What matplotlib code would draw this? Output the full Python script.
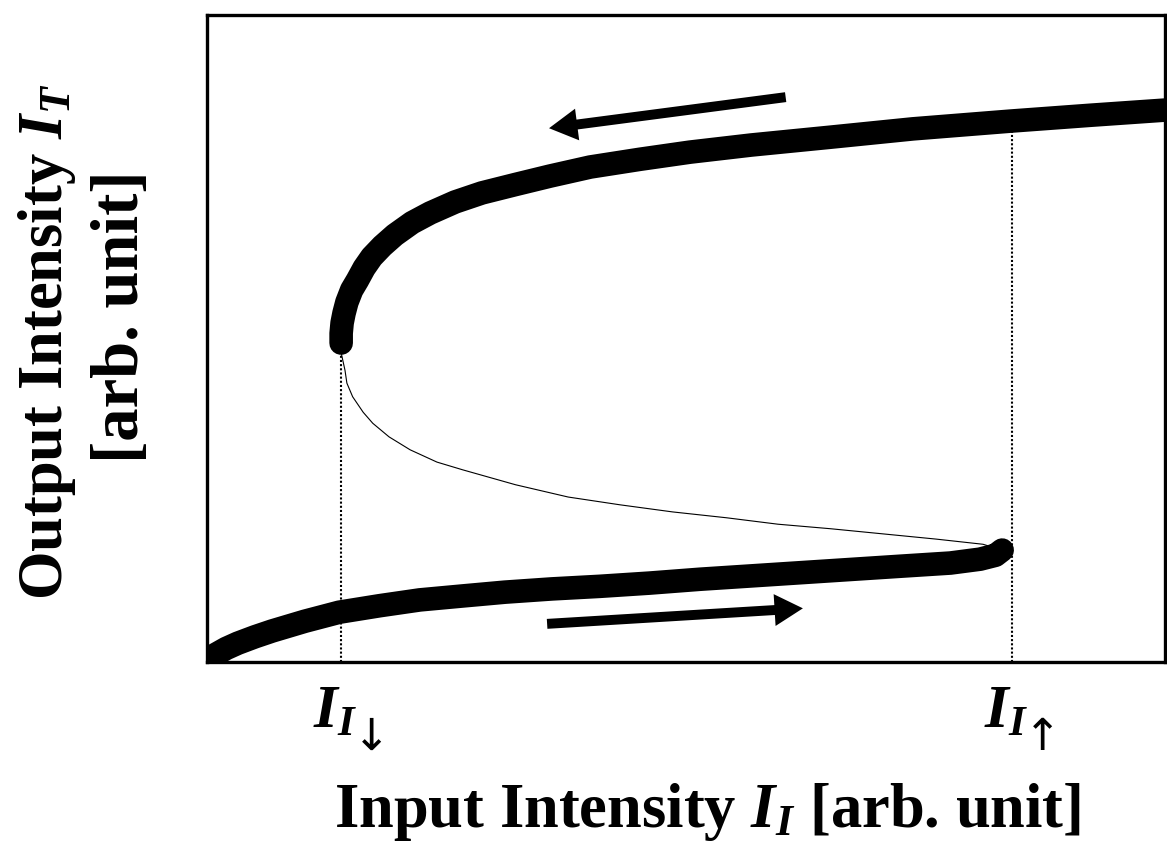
import matplotlib
matplotlib.use("Agg")
import matplotlib.pyplot as plt

plt.rcParams["font.family"] = ["Liberation Serif", "DejaVu Serif"]
plt.rcParams["font.weight"] = "bold"
plt.rcParams["mathtext.fontset"] = "custom"
plt.rcParams["mathtext.rm"] = "Liberation Serif:bold"
plt.rcParams["mathtext.it"] = "Liberation Serif:italic:bold"
plt.rcParams["mathtext.bf"] = "Liberation Serif:bold"

# stable high-transmission branch (input, output)
upper_x = [1.40, 1.40, 1.41, 1.43, 1.46, 1.51, 1.57, 1.64, 1.72, 1.83, 1.96,
           2.14, 2.33, 2.59, 2.87, 3.22, 3.58, 4.00, 4.52, 5.04, 5.68, 6.50,
           7.37, 8.39, 9.22, 10.0]
upper_y = [4.93, 5.08, 5.24, 5.39, 5.56, 5.75, 5.90, 6.09, 6.26, 6.43, 6.60,
           6.79, 6.94, 7.11, 7.25, 7.38, 7.51, 7.65, 7.77, 7.88, 7.99, 8.11,
           8.24, 8.36, 8.45, 8.53]

# stable low-transmission branch
lower_x = [0.00, 0.08, 0.20, 0.32, 0.50, 0.68, 1.02, 1.38, 1.80, 2.22, 2.66,
           3.11, 3.60, 4.10, 4.62, 5.15, 5.67, 6.19, 6.71, 7.23, 7.76, 8.07,
           8.23, 8.30]
lower_y = [0.00, 0.11, 0.21, 0.29, 0.39, 0.48, 0.63, 0.77, 0.87, 0.96, 1.02,
           1.08, 1.13, 1.17, 1.22, 1.28, 1.33, 1.38, 1.43, 1.48, 1.53, 1.59,
           1.65, 1.73]

# unstable middle branch
middle_x = [8.30, 8.10, 7.61, 7.06, 6.51, 5.96, 5.42, 4.86, 4.31, 3.77, 3.22,
            2.67, 2.40, 2.12, 1.90, 1.73, 1.63, 1.52, 1.46, 1.44, 1.40, 1.40]
middle_y = [1.73, 1.82, 1.90, 1.98, 2.06, 2.13, 2.23, 2.32, 2.43, 2.55, 2.74,
            2.97, 3.09, 3.28, 3.48, 3.69, 3.86, 4.10, 4.31, 4.51, 4.78, 4.93]

# switching thresholds and where their guide lines end
switch_x = [1.40, 8.40]
switch_top = [4.93, 8.36]
switch_arrows = ["↓", "↑"]

# sweep-direction arrows: (tail, head)
arrow_down = [(6.04, 8.73), (3.57, 8.25)]
arrow_up = [(3.55, 0.59), (6.22, 0.83)]

fig = plt.figure(figsize=(11.67, 8.41), dpi=100)
ax = fig.add_axes([0.1774, 0.2128, 0.8209, 0.7694])

ax.vlines(switch_x, 0, switch_top, colors="k", linewidth=1.5,
          linestyles=(0, (1, 1)), zorder=1)
ax.plot(middle_x, middle_y, color="k", linewidth=0.8, zorder=2)
for xs, ys in [(upper_x, upper_y), (lower_x, lower_y)]:
    ax.plot(xs, ys, color="k", linewidth=17, solid_capstyle="round",
            solid_joinstyle="round", zorder=3)

for tail, head in [arrow_down, arrow_up]:
    ax.annotate("", xy=head, xytext=tail,
                arrowprops=dict(arrowstyle="simple,head_length=1.2,head_width=1.35,tail_width=0.42",
                                mutation_scale=17, color="k", lw=0,
                                shrinkA=0, shrinkB=0))

ax.set_xlim(0, 10)
ax.set_ylim(0, 10)
ax.set_xticks([])
ax.set_yticks([])
for sp in ax.spines.values():
    sp.set_linewidth(2.4)
    sp.set_zorder(5)

# threshold labels under the axis: I_I with a sweep arrow subscript
for xv, arr in zip(switch_x, switch_arrows):
    ax.annotate(r"$I_{I}$", xy=(xv, 0), xycoords=("data", "axes fraction"),
                xytext=(-20, -47.5), textcoords="offset points",
                fontsize=44, ha="left", va="baseline", annotation_clip=False)
    ax.annotate(arr, xy=(xv, 0), xycoords=("data", "axes fraction"),
                xytext=(22, -54), textcoords="offset points",
                fontsize=32, family="DejaVu Sans", fontweight="normal",
                ha="center", va="center", annotation_clip=False)

fig.text(0.606, 0.017, r"Input Intensity $I_I$ [arb. unit]", fontsize=45,
         fontweight="bold", ha="center", va="baseline")
fig.text(0.040, 0.593, r"Output Intensity $I_T$", fontsize=45,
         fontweight="bold", ha="center", va="center", rotation=90)
fig.text(0.104, 0.624, "[arb. unit]", fontsize=48,
         fontweight="bold", ha="center", va="center", rotation=90)

fig.savefig("out.png", dpi=100)
